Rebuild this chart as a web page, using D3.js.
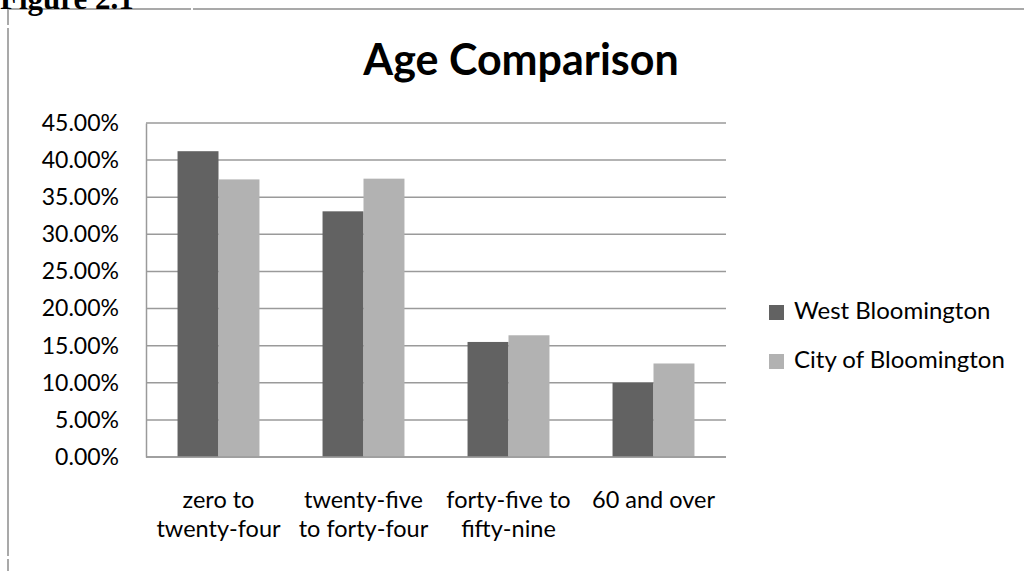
<!DOCTYPE html>
<html>
<head>
<meta charset="utf-8">
<script src="https://d3js.org/d3.v7.min.js"></script>
<style>
  html, body { margin: 0; padding: 0; background: #fff; }
  svg { display: block; }
</style>
</head>
<body>
<script>
// Age distribution shares, West Bloomington vs. City of Bloomington
const categories = [
  ["zero to", "twenty-four"],
  ["twenty-five", "to forty-four"],
  ["forty-five to", "fifty-nine"],
  ["60 and over"]
];
const seriesNames = ["West Bloomington", "City of Bloomington"];
const westValues = [0.412, 0.331, 0.155, 0.100];
const cityValues = [0.374, 0.375, 0.164, 0.126];
const yTicks = [0, 0.05, 0.10, 0.15, 0.20, 0.25, 0.30, 0.35, 0.40, 0.45];
const seriesColors = ["#626262", "#b2b2b2"];

const W = 1024, H = 571;
const svg = d3.select("body").append("svg").attr("width", W).attr("height", H);

// Page frame with a break in the lines
const frame = svg.append("g").attr("stroke", "#a9a9a9").attr("stroke-width", 2).attr("fill", "none");
frame.append("line").attr("x1", 8).attr("y1", 9).attr("x2", 191).attr("y2", 9);
frame.append("line").attr("x1", 193).attr("y1", 9).attr("x2", W).attr("y2", 9);
frame.append("line").attr("x1", 8).attr("y1", 9).attr("x2", 8).attr("y2", 25);
frame.append("line").attr("x1", 8).attr("y1", 28).attr("x2", 8).attr("y2", 556);
frame.append("line").attr("x1", 8).attr("y1", 559).attr("x2", 8).attr("y2", H);

svg.append("text")
  .attr("x", 0).attr("y", 9)
  .attr("font-family", "Liberation Serif, Times New Roman, serif")
  .attr("font-weight", "bold").attr("font-size", 31)
  .attr("fill", "#000")
  .text("Figure 2.1");

const plot = { left: 146, right: 726, top: 123, bottom: 457 };

const y = d3.scaleLinear().domain([0, 0.45]).range([plot.bottom, plot.top]);
const x0 = d3.scaleBand().domain(d3.range(categories.length)).range([plot.left, plot.right]).padding(0);
const x1 = d3.scaleBand().domain(seriesNames).range([0, x0.bandwidth()]).paddingInner(0).paddingOuter(0.77);

const font = "Lato, 'Open Sans', sans-serif";

// Title
svg.append("text")
  .attr("x", 521).attr("y", 75)
  .attr("text-anchor", "middle")
  .attr("font-family", font).attr("font-weight", "bold").attr("font-size", 43)
  .attr("fill", "#000")
  .text("Age Comparison");

// Gridlines
svg.append("g").selectAll("line").data(yTicks).join("line")
  .attr("x1", plot.left).attr("x2", plot.right)
  .attr("y1", d => y(d)).attr("y2", d => y(d))
  .attr("stroke", "#9a9a9a").attr("stroke-width", 1.5);

// Y axis
const yAxis = d3.axisLeft(y).tickValues(yTicks).tickFormat(d3.format(".2%")).tickSize(0).tickPadding(27);
const yg = svg.append("g").attr("transform", `translate(${plot.left},0)`).call(yAxis);
yg.select(".domain").attr("stroke", "#9a9a9a").attr("stroke-width", 1.5);
yg.selectAll("text").attr("font-family", font).attr("font-size", 23).attr("fill", "#000");

// Bars
const data = categories.map((c, i) => ({ i, values: [westValues[i], cityValues[i]] }));
const groups = svg.append("g").selectAll("g").data(data).join("g")
  .attr("transform", d => `translate(${x0(d.i)},0)`);
groups.selectAll("rect").data(d => d.values.map((v, k) => ({ name: seriesNames[k], v, k }))).join("rect")
  .attr("x", d => x1(d.name))
  .attr("width", x1.bandwidth())
  .attr("y", d => y(d.v))
  .attr("height", d => y(0) - y(d.v))
  .attr("fill", d => seriesColors[d.k]);

// Bottom axis line
svg.append("line")
  .attr("x1", plot.left).attr("x2", plot.right)
  .attr("y1", y(0)).attr("y2", y(0))
  .attr("stroke", "#9a9a9a").attr("stroke-width", 1.5);

// Category labels
const cat = svg.append("g").selectAll("text").data(categories).join("text")
  .attr("x", (d, i) => x0(i) + x0.bandwidth() / 2)
  .attr("y", 508)
  .attr("text-anchor", "middle")
  .attr("font-family", font).attr("font-size", 23.5).attr("fill", "#000");
cat.selectAll("tspan").data(d => d).join("tspan")
  .attr("x", function () { return this.parentNode.getAttribute("x"); })
  .attr("dy", (d, j) => j === 0 ? 0 : 29)
  .text(d => d);

// Legend
const legend = svg.append("g").selectAll("g").data(seriesNames).join("g")
  .attr("transform", (d, i) => `translate(769,${305 + i * 49})`);
legend.append("rect").attr("x", 0).attr("y", 0).attr("width", 15).attr("height", 15)
  .attr("fill", (d, i) => seriesColors[i]);
legend.append("text").attr("x", 25).attr("y", 14)
  .attr("font-family", font).attr("font-size", 24).attr("fill", "#000")
  .text(d => d);
</script>
</body>
</html>
